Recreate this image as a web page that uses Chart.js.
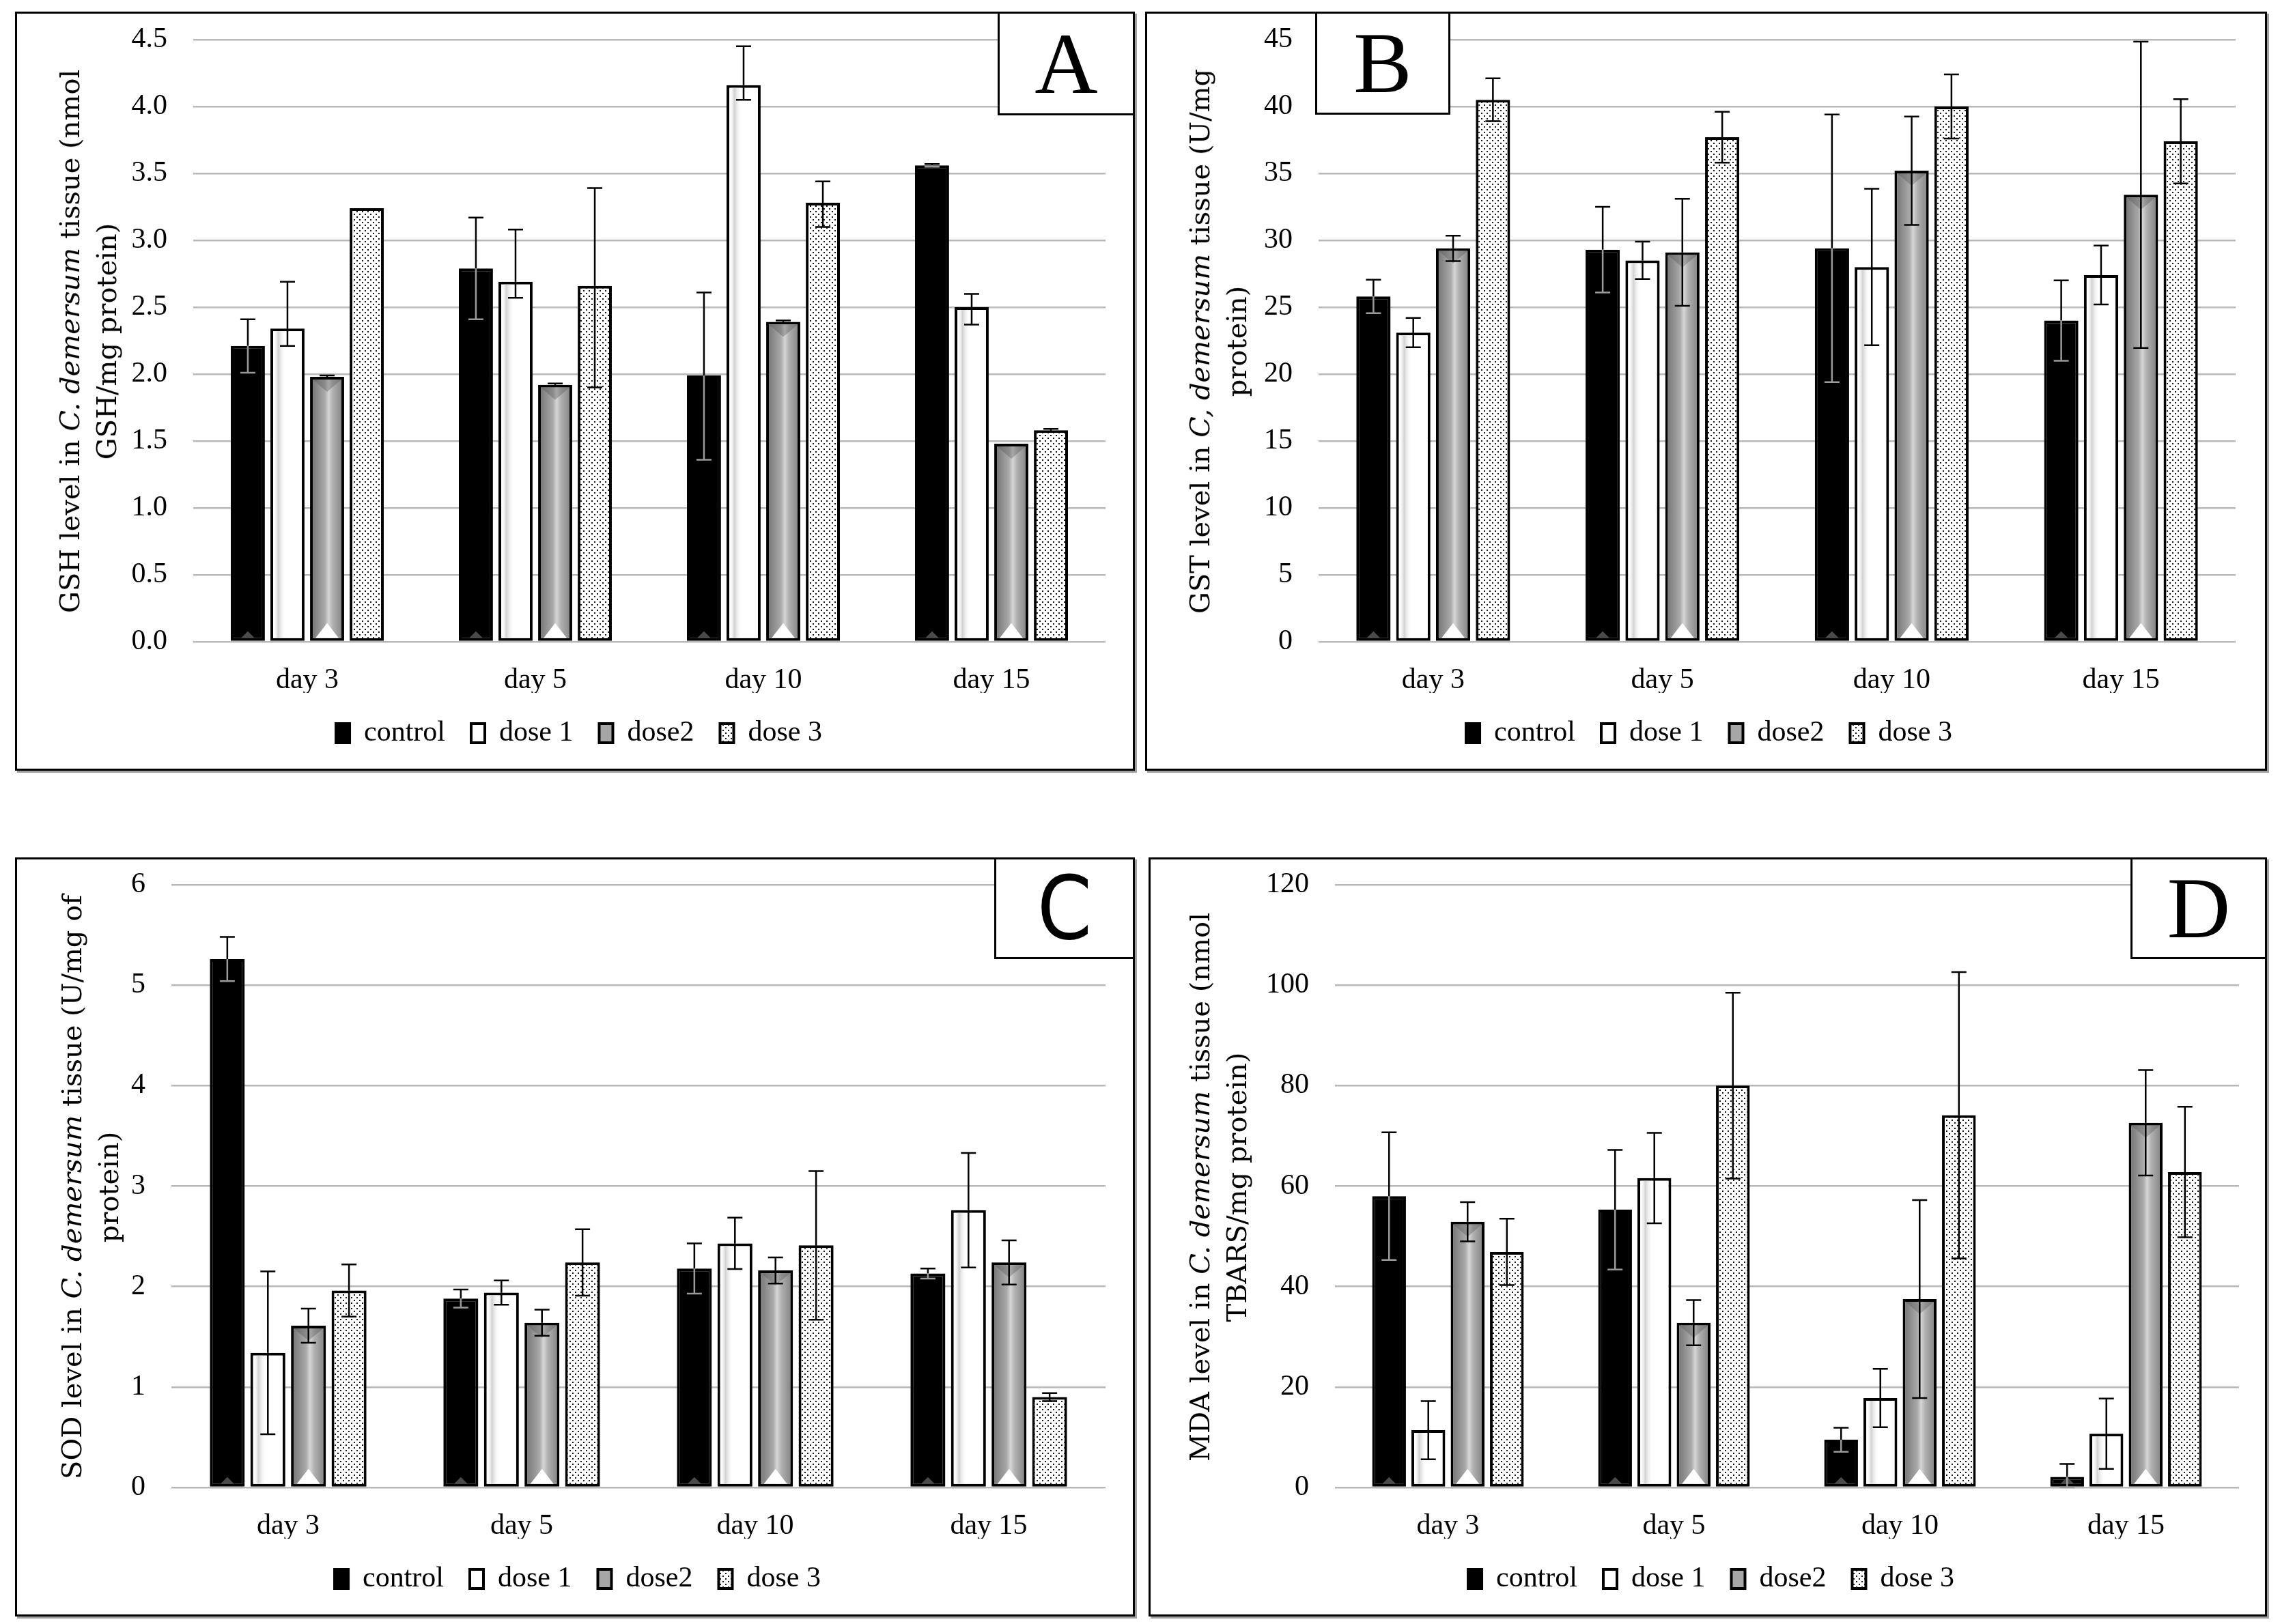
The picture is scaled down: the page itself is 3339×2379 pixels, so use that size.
<!DOCTYPE html>
<html>
<head>
<meta charset="utf-8">
<title>GSH, GST, SOD and MDA in C. demersum</title>
<script src="https://cdn.jsdelivr.net/npm/chart.js@4.4.1/dist/chart.umd.min.js"></script>
<style>
  body { margin: 0; width: 3339px; height: 2379px; background: #fff; position: relative; overflow: hidden; }
  .panel { position: absolute; border: 3px solid #000; box-shadow: 3px 3px 0 #a0a0a0; background: #fff; box-sizing: border-box; }
  .panel canvas { position: absolute; left: 0; top: 0; }
  .ytitle { position: absolute; font-family: "DejaVu Serif", serif; font-size: 40px; line-height: 54px;
            text-align: center; white-space: nowrap; color: #000; transform: translate(-50%, -50%) rotate(-90deg); }
  .letter { position: absolute; border: 3px solid #000; background: #fff; box-sizing: border-box;
            display: flex; align-items: center; justify-content: center;
            font-family: "Liberation Serif", serif; font-size: 128px; color: #000; }
</style>
</head>
<body>

<div class="panel" style="left:22px;top:17px;width:1640px;height:1112px;">
  <canvas id="chartA" width="1634" height="1106"></canvas>
  <div class="ytitle" style="left:104px;top:480px;">GSH level in <i>C. demersum</i> tissue (nmol<br>GSH/mg protein)</div>
</div>
<div class="letter" style="left:1461px;top:17px;width:201px;height:152px;">A</div>

<div class="panel" style="left:1677px;top:17px;width:1643px;height:1112px;">
  <canvas id="chartB" width="1637" height="1106"></canvas>
  <div class="ytitle" style="left:104px;top:480px;">GST level in <i>C, demersum</i> tissue (U/mg<br>protein)</div>
</div>
<div class="letter" style="left:1926px;top:17px;width:198px;height:151px;">B</div>

<div class="panel" style="left:22px;top:1256px;width:1640px;height:1112px;">
  <canvas id="chartC" width="1634" height="1106"></canvas>
  <div class="ytitle" style="left:107px;top:480px;">SOD level in <i>C. demersum</i> tissue (U/mg of<br>protein)</div>
</div>
<div class="letter" style="left:1456px;top:1256px;width:206px;height:149px;font-family:'Liberation Sans Narrow','DejaVu Sans Condensed',sans-serif;">C</div>

<div class="panel" style="left:1682px;top:1256px;width:1638px;height:1112px;">
  <canvas id="chartD" width="1632" height="1106"></canvas>
  <div class="ytitle" style="left:99px;top:480px;">MDA level in <i>C. demersum</i> tissue (nmol<br>TBARS/mg protein)</div>
</div>
<div class="letter" style="left:3120px;top:1256px;width:200px;height:149px;">D</div>

<script>
// categories and series
const days = ['day 3', 'day 5', 'day 10', 'day 15'];
const groups = ['control', 'dose 1', 'dose2', 'dose 3'];

// A - GSH (one row per group, one value per day)
const gshMean = [
  [2.21, 2.79, 1.99, 3.56],
  [2.34, 2.69, 4.16, 2.50],
  [1.98, 1.92, 2.39, 1.48],
  [3.24, 2.66, 3.28, 1.58]
];
const gshErrUp = [
  [0.20, 0.38, 0.62, 0.01],
  [0.35, 0.39, 0.29, 0.10],
  [0.01, 0.01, 0.01, 0.00],
  [0.00, 0.73, 0.16, 0.01]
];
const gshErrDown = [
  [0.20, 0.38, 0.63, 0.01],
  [0.13, 0.12, 0.11, 0.13],
  [0.01, 0.01, 0.01, 0.00],
  [0.00, 0.76, 0.18, 0.01]
];

// B - GST
const gstMean = [
  [25.8, 29.3, 29.4, 24.0],
  [23.1, 28.5, 28.0, 27.4],
  [29.4, 29.1, 35.2, 33.4],
  [40.5, 37.7, 40.0, 37.4]
];
const gstErr = [
  [1.25, 3.2, 10.0, 3.0],
  [1.1, 1.4, 5.85, 2.2],
  [0.95, 4.0, 4.05, 11.45],
  [1.6, 1.9, 2.4, 3.15]
];

// C - SOD
const sodMean = [
  [5.26, 1.88, 2.18, 2.13],
  [1.34, 1.94, 2.43, 2.76],
  [1.61, 1.64, 2.16, 2.24],
  [1.96, 2.24, 2.41, 0.90]
];
const sodErr = [
  [0.22, 0.09, 0.25, 0.05],
  [0.81, 0.12, 0.255, 0.57],
  [0.17, 0.13, 0.13, 0.22],
  [0.26, 0.33, 0.74, 0.04]
];

// D - MDA
const mdaMean = [
  [58.0, 55.3, 9.5, 2.1],
  [11.4, 61.6, 17.8, 10.7],
  [52.9, 32.8, 37.5, 72.6],
  [46.9, 80.0, 74.1, 62.8]
];
const mdaErr = [
  [12.7, 11.9, 2.4, 2.6],
  [5.8, 9.0, 5.8, 7.0],
  [3.9, 4.5, 19.7, 10.5],
  [6.6, 18.5, 28.5, 13.0]
];

// dotted fill for dose 3
function dotPattern() {
  const c = document.createElement('canvas');
  c.width = 8; c.height = 8;
  const g = c.getContext('2d');
  g.fillStyle = '#fff';
  g.fillRect(0, 0, 8, 8);
  g.fillStyle = '#1a1a1a';
  g.fillRect(1, 1, 2, 2);
  g.fillRect(5, 5, 2, 2);
  return g.createPattern(c, 'repeat');
}
const dots = dotPattern();
const fills = ['#000000', '#ffffff', '#a6a6a6', dots];

// shading on the bars + error bars
const barDecor = {
  id: 'barDecor',
  afterDatasetsDraw(chart) {
    const ctx = chart.ctx;
    const yScale = chart.scales.y;
    const bw = 4;
    chart.data.datasets.forEach((ds, i) => {
      const meta = chart.getDatasetMeta(i);
      meta.data.forEach((bar) => {
        const { x, y, base, width } = bar.getProps(['x', 'y', 'base', 'width'], true);
        const left = x - width / 2, right = x + width / 2;
        ctx.save();
        if (i === 0) {
          ctx.fillStyle = '#4a4a4a';
          ctx.beginPath();
          ctx.moveTo(x - 10, base - bw);
          ctx.lineTo(x + 10, base - bw);
          ctx.lineTo(x, base - bw - 10);
          ctx.fill();
        } else if (i === 1) {
          const g = ctx.createLinearGradient(left + bw, 0, right - bw, 0);
          g.addColorStop(0, 'rgba(255,255,255,0)');
          g.addColorStop(0.18, '#d2d2d2');
          g.addColorStop(0.45, 'rgba(255,255,255,0)');
          ctx.fillStyle = g;
          ctx.fillRect(left + bw, y + bw, width - 2 * bw, base - y - 2 * bw);
        } else if (i === 2) {
          const g = ctx.createLinearGradient(left + bw, 0, right - bw, 0);
          g.addColorStop(0, '#7a7a7a');
          g.addColorStop(0.42, '#a9a9a9');
          g.addColorStop(0.55, '#d6d6d6');
          g.addColorStop(0.7, '#b0b0b0');
          g.addColorStop(1, '#8a8a8a');
          ctx.fillStyle = g;
          ctx.fillRect(left + bw, y + bw, width - 2 * bw, base - y - 2 * bw);
          ctx.fillStyle = 'rgba(80,80,80,0.35)';
          ctx.beginPath();
          ctx.moveTo(left + bw, y + bw);
          ctx.lineTo(right - bw, y + bw);
          ctx.lineTo(x, y + bw + 18);
          ctx.fill();
          ctx.fillStyle = '#fff';
          ctx.beginPath();
          ctx.moveTo(x - 17, base - bw);
          ctx.lineTo(x + 17, base - bw);
          ctx.lineTo(x, base - bw - 22);
          ctx.fill();
        }
        ctx.restore();
      });
    });

    // error bars
    chart.data.datasets.forEach((ds, i) => {
      const meta = chart.getDatasetMeta(i);
      meta.data.forEach((bar, j) => {
        const v = ds.data[j];
        const up = ds.errUp[j], down = ds.errDown[j];
        if (!up && !down) return;
        const x = bar.x;
        const yTop = yScale.getPixelForValue(v + up);
        const yBar = yScale.getPixelForValue(v);
        const yBot = yScale.getPixelForValue(Math.max(0, v - down));
        const cap = 11;
        ctx.save();
        ctx.lineWidth = 2.5;
        ctx.strokeStyle = '#000';
        ctx.beginPath();
        ctx.moveTo(x, yTop); ctx.lineTo(x, yBar);
        ctx.moveTo(x - cap, yTop); ctx.lineTo(x + cap, yTop);
        ctx.stroke();
        ctx.strokeStyle = i === 0 ? '#9a9a9a' : '#000';
        ctx.beginPath();
        ctx.moveTo(x, yBar); ctx.lineTo(x, yBot);
        ctx.moveTo(x - cap, yBot); ctx.lineTo(x + cap, yBot);
        ctx.stroke();
        ctx.restore();
      });
    });
  }
};

const tickFont = { family: 'Liberation Serif', size: 42 };

function makeChart(id, mean, errUp, errDown, yMax, yStep, digits, padLeft, padRight, padTop, yWidth) {
  const datasets = groups.map((name, i) => ({
    label: name,
    data: mean[i],
    errUp: errUp[i],
    errDown: errDown[i],
    backgroundColor: fills[i],
    borderColor: '#000',
    borderWidth: 4,
    borderSkipped: false,
    categoryPercentage: 0.695,
    barPercentage: 0.86
  }));
  return new Chart(document.getElementById(id), {
    type: 'bar',
    data: { labels: days, datasets: datasets },
    plugins: [barDecor],
    options: {
      responsive: false,
      devicePixelRatio: 1,
      animation: false,
      layout: { padding: { left: padLeft, right: padRight, top: padTop, bottom: 21 } },
      scales: {
        x: {
          grid: { display: false },
          border: { display: false },
          ticks: { font: tickFont, color: '#000', padding: 24 },
          afterFit: (s) => { s.height = 75; }
        },
        y: {
          min: 0,
          max: yMax,
          // invisible tick marks keep the labels off the plot without padding the top
          grid: { color: '#b8b8b8', lineWidth: 2.5, drawTicks: true, tickLength: 38, tickColor: 'rgba(0,0,0,0)' },
          border: { display: false },
          ticks: {
            stepSize: yStep,
            font: tickFont,
            color: '#000',
            padding: 0,
            callback: (v) => v.toFixed(digits)
          },
          afterFit: (s) => { s.width = yWidth; }
        }
      },
      plugins: {
        legend: {
          position: 'bottom',
          labels: { font: tickFont, color: '#000', boxWidth: 20, boxHeight: 28, padding: 38 }
        },
        tooltip: { enabled: false }
      }
    }
  });
}

makeChart('chartA', gshMean, gshErrUp, gshErrDown, 4.5, 0.5, 1, 52, 40, 38, 206);
makeChart('chartB', gstMean, gstErr, gstErr, 45, 5, 0, 52, 43, 38, 199);
makeChart('chartC', sodMean, sodErr, sodErr, 6, 1, 0, 48, 40, 37, 178);
makeChart('chartD', mdaMean, mdaErr, mdaErr, 120, 20, 0, 48, 38, 37, 222);
</script>
</body>
</html>
